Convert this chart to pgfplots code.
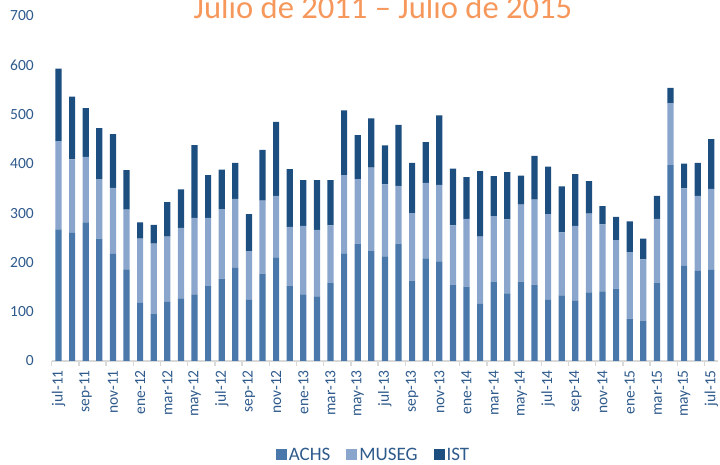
\documentclass[border=0pt]{standalone}
\usepackage{pgfplots}
\pgfplotsset{compat=1.18}
\usepackage{pgfplotstable}
\usepackage{fontspec}
\setmainfont{Carlito}

\definecolor{achs}{RGB}{74,120,170}
\definecolor{museg}{RGB}{139,166,204}
\definecolor{ist}{RGB}{28,79,128}
\definecolor{txt}{RGB}{46,90,140}
\definecolor{ttl}{RGB}{246,152,92}
\definecolor{axgray}{RGB}{217,217,217}

% meses jul-11 .. jul-15
\pgfplotstableread{
idx achs museg ist
0 267 179 147
1 260 149 127
2 281 133 99
3 248 121 103
4 217 134 109
5 186 121 80
6 118 130 33
7 95 143 38
8 120 132 70
9 127 143 78
10 135 155 148
11 152 138 87
12 167 141 80
13 189 140 73
14 124 99 75
15 177 148 103
16 210 125 150
17 153 119 117
18 135 139 93
19 131 135 101
20 158 117 92
21 218 159 131
22 238 131 89
23 223 169 100
24 212 146 79
25 238 117 124
26 163 137 102
27 208 153 83
28 202 155 141
29 154 121 115
30 151 137 85
31 116 136 133
32 161 133 81
33 137 150 96
34 161 156 59
35 155 172 89
36 124 174 96
37 133 128 93
38 122 152 105
39 139 160 66
40 141 136 37
41 147 98 47
42 86 135 62
43 82 124 42
44 159 129 47
45 397 126 31
46 193 157 50
47 183 152 67
48 185 164 101
}\datatable

\begin{document}
\begin{tikzpicture}
\begin{axis}[
  at={(51.7pt,104pt)}, anchor=south west,
  scale only axis, width=666.4pt, height=345.2pt,
  ybar stacked, bar width=6.2pt,
  xmin=-0.5, xmax=48.5, ymin=0, ymax=700,
  axis lines*=left,
  x axis line style={draw=axgray, line width=1.5pt},
  y axis line style={draw=none},
  ytick={0,100,...,700},
  xtick={0,2,...,48},
  xticklabels={jul-11,sep-11,nov-11,ene-12,mar-12,may-12,jul-12,sep-12,nov-12,ene-13,mar-13,may-13,jul-13,sep-13,nov-13,ene-14,mar-14,may-14,jul-14,sep-14,nov-14,ene-15,mar-15,may-15,jul-15},
  major tick length=0pt,
  extra x ticks={-0.5,1.5,...,47.5},
  extra x tick labels={},
  extra x tick style={major tick length=5pt, tick align=outside,
    tick style={draw=axgray, line width=1.5pt}},
  /pgf/number format/assume math mode=true,
  ticklabel style={font=\fontsize{15.5}{18}\selectfont, text=txt, inner sep=0pt},
  xticklabel style={rotate=90, anchor=east},
  xticklabel shift=9pt,
  yticklabel style={anchor=east},
  yticklabel shift=17.7pt,
  legend style={at={(axis description cs:0.4829,-0.272)}, anchor=center,
    draw=none, fill=none, legend columns=3,
    font=\fontsize{19}{22}\selectfont, text=txt,
    /tikz/every even column/.append style={column sep=14pt}},
  legend image code/.code={\path[#1, draw=none] (0pt,-4.75pt) rectangle (11pt,6.25pt);},
]
\addplot[fill=achs, draw=none] table[x=idx, y=achs] {\datatable};
\addplot[fill=museg, draw=none] table[x=idx, y=museg] {\datatable};
\addplot[fill=ist, draw=none] table[x=idx, y=ist] {\datatable};
\legend{ACHS, MUSEG, IST}
\end{axis}
\node[anchor=base, font=\fontsize{32.6}{36}\selectfont, text=ttl] at (383pt,446pt) {Julio de 2011 -- Julio de 2015};
\pgfresetboundingbox
\useasboundingbox (0pt,0pt) rectangle (720pt,465pt);
\end{tikzpicture}
\end{document}
